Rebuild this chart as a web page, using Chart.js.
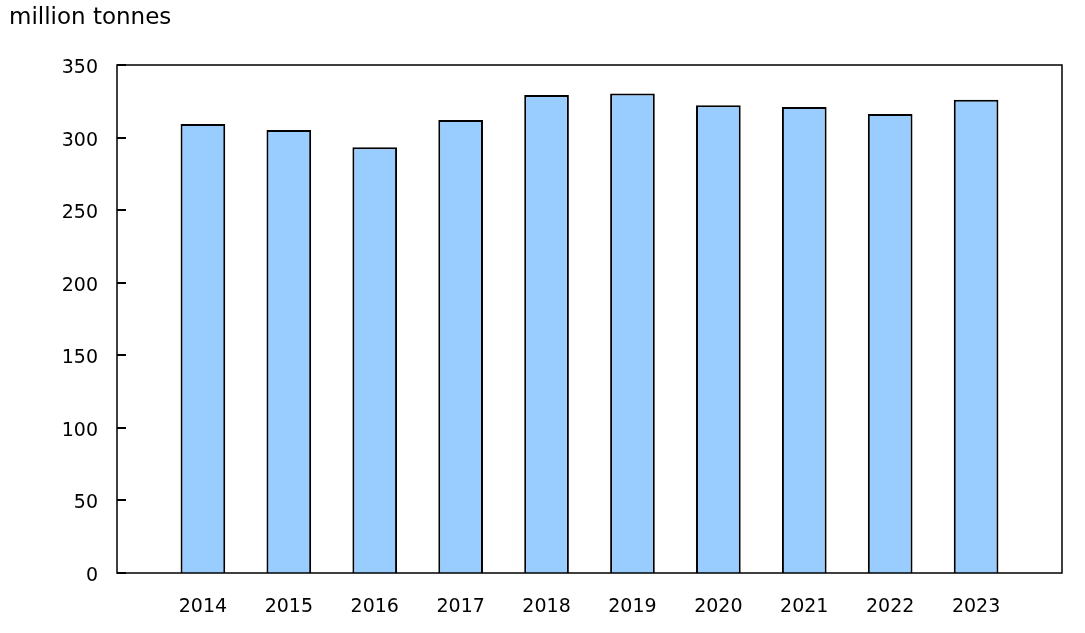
<!DOCTYPE html>
<html>
<head>
<meta charset="utf-8">
<script src="https://cdn.jsdelivr.net/npm/chart.js"></script>
<style>
  html, body { margin: 0; padding: 0; background: #fff; }
  #wrap { position: relative; width: 1085px; height: 633px; }
</style>
</head>
<body>
<div id="wrap"><canvas id="chart"></canvas></div>
<script>
// years, with an empty slot at each end so the bars sit inside the frame
const years = ['', '2014', '2015', '2016', '2017', '2018', '2019', '2020', '2021', '2022', '2023', ''];
const tonnes = [null, 309.3, 305.2, 293.3, 312.1, 329.3, 330.3, 322.2, 321.0, 316.2, 326.1, null];
const yTicks = [0, 50, 100, 150, 200, 250, 300, 350];
const unitLabel = 'million tonnes';

const FONT = "'DejaVu Sans', Verdana, sans-serif";

// frame box, inward ticks on the y axis and the unit label
const framePlugin = {
    id: 'frame',
    afterDraw(chart) {
        const { ctx, chartArea: a, scales } = chart;
        ctx.save();
        ctx.strokeStyle = '#000';
        ctx.lineWidth = 1.5;
        ctx.strokeRect(a.left, a.top, a.right - a.left, a.bottom - a.top);
        ctx.lineWidth = 2;
        yTicks.forEach(v => {
            const y = Math.round(scales.y.getPixelForValue(v));
            ctx.beginPath();
            ctx.moveTo(a.left, y);
            ctx.lineTo(a.left + 9, y);
            ctx.stroke();
        });
        ctx.fillStyle = '#000';
        ctx.font = '23px ' + FONT;
        ctx.textBaseline = 'middle';
        ctx.textAlign = 'left';
        ctx.fillText(unitLabel, 9, 18);
        ctx.restore();
    }
};

new Chart(document.getElementById('chart'), {
    type: 'bar',
    data: {
        labels: years,
        datasets: [{
            data: tonnes,
            backgroundColor: '#99ccff',
            borderColor: '#000',
            borderWidth: 2,
            categoryPercentage: 1,
            barPercentage: 0.52
        }]
    },
    options: {
        responsive: true,
        maintainAspectRatio: false,
        animation: false,
        layout: { padding: { top: 65, right: 20, left: 0, bottom: 0 } },
        plugins: { legend: { display: false }, tooltip: { enabled: false } },
        scales: {
            x: {
                offset: false,
                grid: { display: false, drawTicks: false },
                border: { display: false },
                ticks: {
                    color: '#000', padding: 23, maxRotation: 0, autoSkip: false,
                    font: { family: FONT, size: 19 }
                },
                afterFit(scale) { scale.height = 60; }
            },
            y: {
                min: 0, max: 350,
                grid: { display: false, drawTicks: false },
                border: { display: false },
                afterBuildTicks(scale) { scale.ticks = yTicks.map(v => ({ value: v })); },
                ticks: {
                    color: '#000', padding: 19, labelOffset: 3,
                    font: { family: FONT, size: 19 }
                },
                afterFit(scale) { scale.width = 117; }
            }
        }
    },
    plugins: [framePlugin]
});
</script>
</body>
</html>
